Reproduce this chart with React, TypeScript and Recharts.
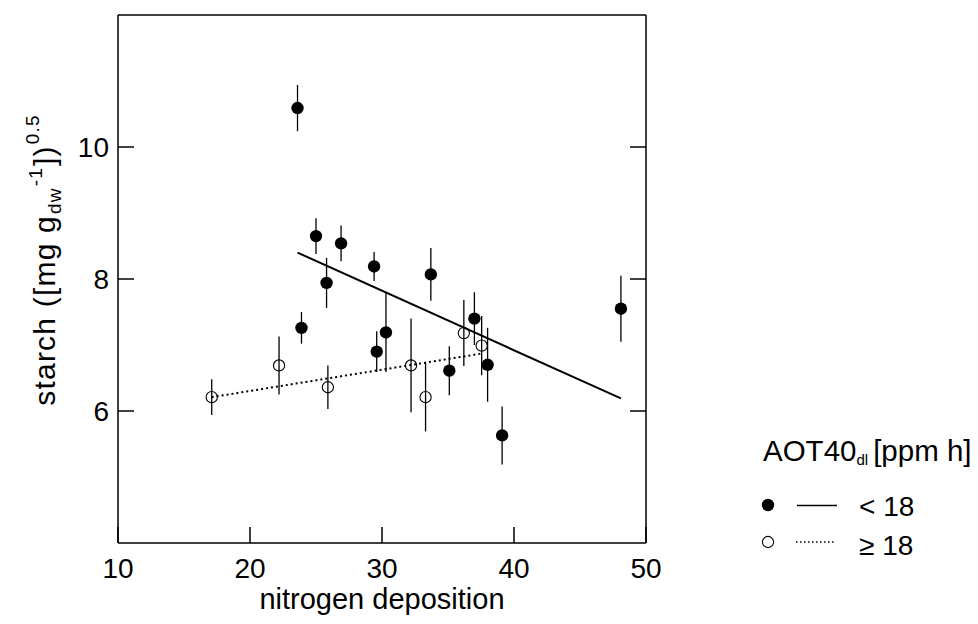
import React from 'react';
import { ScatterChart, Scatter, XAxis, YAxis, ErrorBar, ReferenceLine } from 'recharts';

// AOT40 < 18 (filled circles)
const lowN = [23.6, 25.0, 26.9, 29.4, 33.7, 25.8, 23.9, 30.3, 29.6, 35.1, 37.0, 38.0, 39.1, 48.1];
const lowStarch = [10.59, 8.65, 8.54, 8.19, 8.07, 7.94, 7.26, 7.19, 6.9, 6.61, 7.4, 6.7, 5.63, 7.55];
const lowErr = [0.35, 0.27, 0.27, 0.22, 0.4, 0.38, 0.24, 0.6, 0.31, 0.37, 0.4, 0.56, 0.44, 0.5];

// AOT40 >= 18 (open circles)
const highN = [17.1, 22.2, 25.9, 32.2, 33.3, 36.2, 37.55];
const highStarch = [6.21, 6.69, 6.36, 6.69, 6.21, 7.18, 6.99];
const highErr = [0.27, 0.44, 0.33, 0.71, 0.52, 0.5, 0.45];

// regression line ends
const lowFitN = [23.6, 48.1];
const lowFitStarch = [8.4, 6.19];
const highFitN = [17.1, 37.55];
const highFitStarch = [6.21, 6.87];

const xTicks = [10, 20, 30, 40, 50];
const yTicks = [6, 8, 10];
const xDomain = [10, 50];
const yDomain = [4, 12];

const FONT = '"Liberation Sans", Arial, sans-serif';
const AXIS_W = 1.5;

// plot box is 528 x 528 px; inward tick length 16 px in data units
const PLOT_PX = 528;
const TICK_X = ((xDomain[1] - xDomain[0]) / PLOT_PX) * 16;
const TICK_Y = ((yDomain[1] - yDomain[0]) / PLOT_PX) * 16;

const toPoints = (xs: number[], ys: number[], es?: number[]) =>
  xs.map((x, i) => ({ x, y: ys[i], e: es ? es[i] : 0 }));

const lowData = toPoints(lowN, lowStarch, lowErr);
const highData = toPoints(highN, highStarch, highErr);
const lowFit = toPoints(lowFitN, lowFitStarch);
const highFit = toPoints(highFitN, highFitStarch);

const FilledDot = (p: any) => <circle cx={p.cx} cy={p.cy} r={6.2} fill="#000" />;
const OpenDot = (p: any) => <circle cx={p.cx} cy={p.cy} r={5.6} fill="none" stroke="#000" strokeWidth={1.1} />;
const NoDot = () => <g />;

const BottomTick = (p: any) => (
  <text x={p.x} y={p.y} dy="0.71em" textAnchor="middle" fontSize={28} fontFamily={FONT} fill="#000">
    {p.payload.value}
  </text>
);

const LeftTick = (p: any) => (
  <text x={p.x} y={p.y} dy="0.36em" textAnchor="end" fontSize={28} fontFamily={FONT} fill="#000">
    {p.payload.value}
  </text>
);

export default function App() {
  return (
    <div style={{ position: 'absolute', left: 0, top: 0, width: 978, height: 624, background: '#fff', fontFamily: FONT }}>
      <ScatterChart width={978} height={624} margin={{ top: 15, right: 332, bottom: 21, left: 58 }}>
        <XAxis
          type="number"
          dataKey="x"
          domain={xDomain}
          ticks={xTicks}
          height={60}
          tickSize={0}
          tickMargin={15}
          tickLine={false}
          tick={BottomTick}
          stroke="#000"
          strokeWidth={AXIS_W}
        />
        <YAxis
          type="number"
          dataKey="y"
          domain={yDomain}
          ticks={yTicks}
          width={60}
          tickSize={0}
          tickMargin={9}
          tickLine={false}
          tick={LeftTick}
          stroke="#000"
          strokeWidth={AXIS_W}
        />
        {/* frame: top and right */}
        <ReferenceLine y={yDomain[1]} stroke="#000" strokeWidth={AXIS_W} />
        <ReferenceLine x={xDomain[1]} stroke="#000" strokeWidth={AXIS_W} />
        {/* inward ticks */}
        {xTicks.map((t) => (
          <ReferenceLine
            key={`xt${t}`}
            segment={[{ x: t, y: yDomain[0] }, { x: t, y: yDomain[0] + TICK_Y }]}
            stroke="#000"
            strokeWidth={AXIS_W}
          />
        ))}
        {yTicks.map((t) => (
          <ReferenceLine
            key={`yl${t}`}
            segment={[{ x: xDomain[0], y: t }, { x: xDomain[0] + TICK_X, y: t }]}
            stroke="#000"
            strokeWidth={AXIS_W}
          />
        ))}
        {yTicks.map((t) => (
          <ReferenceLine
            key={`yr${t}`}
            segment={[{ x: xDomain[1] - TICK_X, y: t }, { x: xDomain[1], y: t }]}
            stroke="#000"
            strokeWidth={AXIS_W}
          />
        ))}
        <Scatter data={lowFit} shape={NoDot} line={{ stroke: '#000', strokeWidth: 2 }} isAnimationActive={false} />
        <Scatter data={highFit} shape={NoDot} line={{ stroke: '#000', strokeWidth: 2, strokeDasharray: '2 3' }} isAnimationActive={false} />
        <Scatter data={highData} shape={OpenDot} isAnimationActive={false}>
          <ErrorBar dataKey="e" direction="y" width={0} stroke="#000" strokeWidth={1.3} />
        </Scatter>
        <Scatter data={lowData} shape={FilledDot} isAnimationActive={false}>
          <ErrorBar dataKey="e" direction="y" width={0} stroke="#000" strokeWidth={1.3} />
        </Scatter>
      </ScatterChart>
      <svg width={978} height={624} style={{ position: 'absolute', left: 0, top: 0, pointerEvents: 'none' }}>
        <text x={382} y={609} textAnchor="middle" fontSize={29} fontFamily={FONT} fill="#000">
          nitrogen deposition
        </text>
        <text
          transform="translate(55,260) rotate(-90)"
          textAnchor="middle"
          fontSize={30}
          fontFamily={FONT}
          letterSpacing={1.2}
          fill="#000"
        >
          starch ([mg g
          <tspan fontSize={19} dy={6} dx={1}>dw</tspan>
          <tspan fontSize={19} dy={-19} dx={1}>-1</tspan>
          <tspan dy={13} dx={1}>])</tspan>
          <tspan fontSize={19} dy={-16} dx={1}>0.5</tspan>
        </text>
        <text x={763} y={461} fontSize={29.5} fontFamily={FONT} fill="#000">
          AOT40
          <tspan fontSize={15} dy={4}>dl</tspan>
          <tspan dy={-4} dx={5}>[ppm h]</tspan>
        </text>
        <circle cx={768} cy={505} r={6.2} fill="#000" />
        <line x1={797} x2={837} y1={505.5} y2={505.5} stroke="#000" strokeWidth={1.5} />
        <text x={859} y={516} fontSize={28} fontFamily={FONT} fill="#000">&lt; 18</text>
        <circle cx={768} cy={542} r={5.6} fill="none" stroke="#000" strokeWidth={1.1} />
        <line x1={796} x2={834} y1={542} y2={542} stroke="#000" strokeWidth={1.5} strokeDasharray="1.5 2.5" />
        <text x={859} y={555} fontSize={28} fontFamily={FONT} fill="#000">≥ 18</text>
      </svg>
    </div>
  );
}
